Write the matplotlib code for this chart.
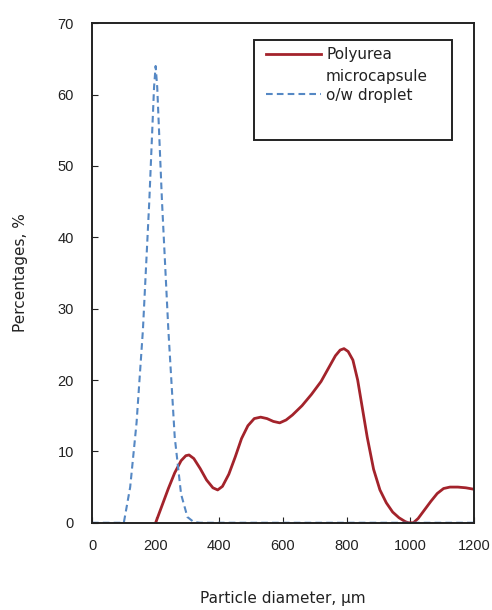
import numpy as np
import matplotlib
matplotlib.use("Agg")
from matplotlib import pyplot as plt
from matplotlib.patches import Rectangle

capsule_x = [200, 220, 240, 260, 280, 295, 305, 320, 340, 360, 380, 395, 410, 430, 450, 470,
             490, 510, 530, 550, 570, 590, 610, 630, 660, 690, 720, 745, 765, 780, 792, 805,
             820, 835, 850, 865, 885, 905, 925, 945, 965, 985, 995, 1010, 1025, 1045, 1065,
             1085, 1105, 1125, 1150, 1175, 1200]
capsule_y = [0, 2.4, 4.8, 7.0, 8.7, 9.4, 9.5, 9.0, 7.6, 6.0, 4.9, 4.6, 5.1, 6.8, 9.2, 11.8,
             13.6, 14.6, 14.8, 14.6, 14.2, 14.0, 14.4, 15.1, 16.4, 18.0, 19.8, 21.8, 23.4, 24.2,
             24.4, 24.0, 22.8, 20.0, 16.0, 12.0, 7.5, 4.6, 2.8, 1.5, 0.7, 0.15, 0, 0, 0.6, 1.8, 3.0,
             4.1, 4.8, 5.0, 5.0, 4.9, 4.7]
droplet_x = [0, 50, 100, 120, 140, 160, 180, 195, 200, 205, 220, 240, 260, 280, 300, 320, 340,
             400, 600, 800, 1000, 1200]
droplet_y = [0, 0, 0, 5, 14, 27, 45, 61, 64, 61, 45, 27, 12, 4, 0.8, 0.1, 0,
             0, 0, 0, 0, 0]

plt.rcParams['font.family'] = ['Liberation Sans', 'DejaVu Sans']
fig = plt.figure(figsize=(4.92, 6.10), dpi=100)
ax = fig.add_axes([0.187, 0.143, 0.776, 0.819])

ax.plot(capsule_x, capsule_y, color='#A3232B', lw=2.0, label='Polyurea\nmicrocapsule')
ax.plot(droplet_x, droplet_y, color='#5588C4', lw=1.5, ls=(0, (3.2, 2.0)), label='o/w droplet')

ax.set_xlim(0, 1200)
ax.set_ylim(0, 70)
ax.set_xticks(range(0, 1201, 200))
ax.set_yticks(range(0, 71, 10))
ax.tick_params(direction='in', length=4, labelsize=10.5, colors='#222222')
ax.tick_params(axis='y', pad=13)
ax.tick_params(axis='x', pad=12)
for s in ax.spines.values():
    s.set_linewidth(1.4)
    s.set_color('#222222')

lab = dict(fontsize=11, family='DejaVu Sans', color='#222222')
ax.set_xlabel('Particle diameter, \u03bcm', labelpad=27, **lab)
ax.set_ylabel('Percentages, %', labelpad=21, **lab)

# legend box is taller than its entries
ax.add_patch(Rectangle((0.424, 0.766), 0.518, 0.2, transform=ax.transAxes, fill=False,
                       edgecolor='#222222', lw=1.4, zorder=5))
leg = ax.legend(loc='upper left', bbox_to_anchor=(0.455, 0.953), frameon=False,
                prop={'family': 'DejaVu Sans', 'size': 11}, handlelength=3.6, handletextpad=0.35,
                borderpad=0, labelspacing=0.25, borderaxespad=0)
for t in leg.get_texts():
    t.set_linespacing(1.6)
    t.set_color('#222222')
# line handle sits next to the first text line, as in the original
h = leg.legend_handles[0]
h.set_ydata(np.asarray(h.get_ydata()) + 8.5)

fig.savefig('out.png', dpi=100)
